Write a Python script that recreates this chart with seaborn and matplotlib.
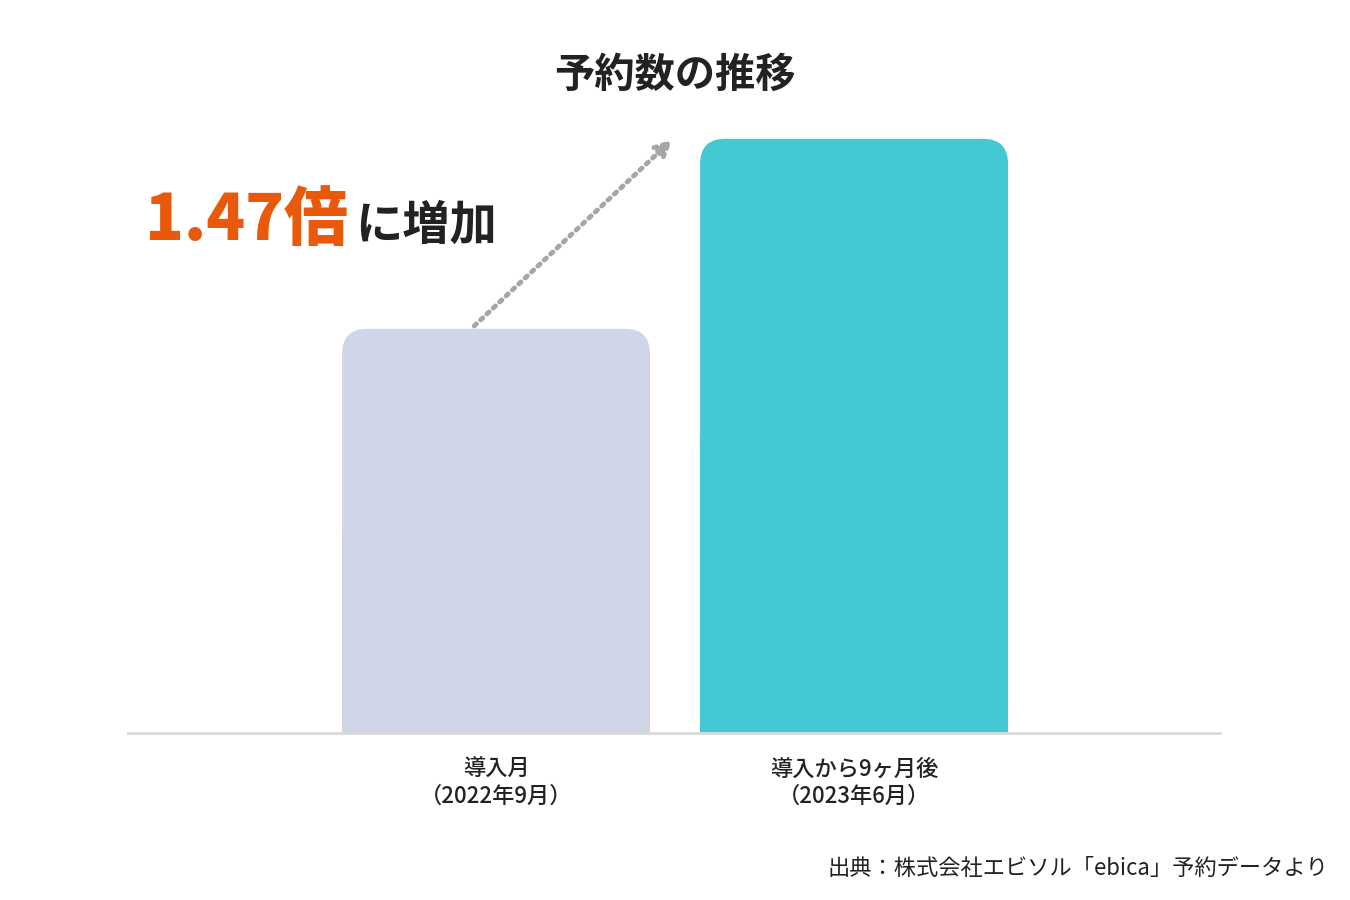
import matplotlib
matplotlib.use("Agg")
import matplotlib.pyplot as plt
import seaborn as sns
import pandas as pd
from matplotlib.patches import FancyBboxPatch, Rectangle

categories = ["導入月\n（2022年9月）", "導入から9ヶ月後\n（2023年6月）"]
values = [1.0, 1.47]
colors = ["#D0D5E8", "#44C9D2"]

sns.set_theme(style="white")
plt.rcParams['font.family'] = ['Noto Sans CJK JP', 'DejaVu Sans']

fig = plt.figure(figsize=(13.5, 9), dpi=100)
ax = fig.add_axes([128/1350, (900-733)/900, 1092/1350, 633/900])
df = pd.DataFrame({"cat": categories, "val": values})
sns.barplot(data=df, x="cat", y="val", hue="cat", palette=colors, width=0.86, ax=ax, legend=False)

# replace with rounded-top bars
rx, ry = 0.07, 0.062
for p, c in zip(list(ax.patches), colors):
    x, w, h = p.get_x(), p.get_width(), p.get_height()
    p.remove()
    ax.add_patch(FancyBboxPatch((x, 0), w, h, boxstyle=f"round,pad=0,rounding_size={rx}",
                                mutation_aspect=ry/rx, fc=c, ec="none", zorder=2))
    ax.add_patch(Rectangle((x, 0), w, h/2, fc=c, ec="none", zorder=2))

ax.set_xlim(-1.028, 2.022)
ax.set_ylim(0, 1.566)
for s in ["top", "right", "left"]:
    ax.spines[s].set_visible(False)
ax.spines["bottom"].set_color("#D9D9D9")
ax.spines["bottom"].set_linewidth(2)
ax.set_yticks([])
ax.set_xlabel("")
ax.set_ylabel("")
ax.tick_params(axis="x", length=0, pad=18, labelsize=16)
for t in ax.get_xticklabels():
    t.set_fontweight("medium")
    t.set_color("#222222")

ax.annotate("", xy=(0.492, 1.468), xytext=(-0.061, 1.007),
            arrowprops=dict(arrowstyle="-|>,head_length=0.8,head_width=0.4", color="#A6A6A6",
                            lw=3.5, linestyle=(0, (0.6, 1.2)), shrinkA=0, shrinkB=0))

fig.text(0.5, 1-75/900, "予約数の推移", ha="center", va="center", fontsize=29, fontweight="bold", color="#222222")
fig.text(145/1350, 1-240/900, "1.47倍", ha="left", va="baseline", fontsize=46, fontweight="heavy", color="#E8590C")
fig.text(355/1350, 1-240/900, "に増加", ha="left", va="baseline", fontsize=34, fontweight="bold", color="#222222")
fig.text(1328/1350, 1-868/900, "出典：株式会社エビソル「ebica」予約データより", ha="right", va="center", fontsize=16, color="#222222")

fig.savefig("out.png", dpi=100, facecolor="white")
